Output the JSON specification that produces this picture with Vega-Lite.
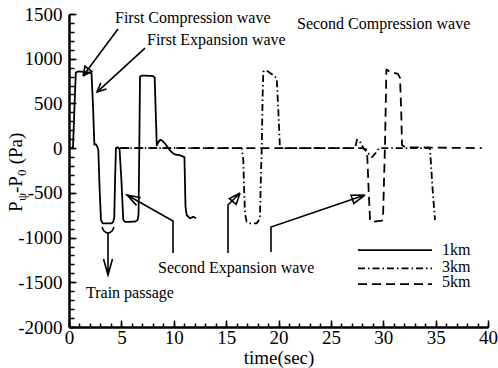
{
  "$schema": "https://vega.github.io/schema/vega-lite/v6.json",
  "width": 419,
  "height": 313,
  "autosize": {"type": "none"},
  "padding": {"left": 69, "top": 14, "right": 10, "bottom": 41},
  "background": "white",
  "config": {
    "view": {"stroke": null},
    "font": "Liberation Serif",
    "axis": {
      "grid": false,
      "domainColor": "black",
      "domainWidth": 2.5,
      "tickColor": "black",
      "tickWidth": 1.5,
      "labelColor": "black",
      "labelFont": "Liberation Serif",
      "labelFontSize": 19,
      "labelOverlap": false,
      "labelBound": false,
      "labelFlush": false,
      "titleColor": "black",
      "titleFont": "Liberation Serif",
      "titleFontSize": 19,
      "titleFontWeight": "normal"
    }
  },
  "resolve": {"axis": {"x": "independent", "y": "independent"}},
  "datasets": {
    "pressure": [
      {"s": "1km", "t": 0, "p": 0}, {"s": "1km", "t": 0.38, "p": 0}, {"s": "1km", "t": 0.52, "p": 450},
      {"s": "1km", "t": 0.65, "p": 845}, {"s": "1km", "t": 0.9, "p": 858}, {"s": "1km", "t": 1.5, "p": 852},
      {"s": "1km", "t": 2.15, "p": 842}, {"s": "1km", "t": 2.3, "p": 450}, {"s": "1km", "t": 2.42, "p": 40},
      {"s": "1km", "t": 2.55, "p": 45}, {"s": "1km", "t": 2.7, "p": 15}, {"s": "1km", "t": 2.8, "p": -20},
      {"s": "1km", "t": 2.92, "p": -450}, {"s": "1km", "t": 3.05, "p": -800}, {"s": "1km", "t": 3.2, "p": -840},
      {"s": "1km", "t": 4.0, "p": -842}, {"s": "1km", "t": 4.2, "p": -830}, {"s": "1km", "t": 4.32, "p": -780},
      {"s": "1km", "t": 4.4, "p": -350}, {"s": "1km", "t": 4.48, "p": 0}, {"s": "1km", "t": 4.62, "p": 10},
      {"s": "1km", "t": 4.82, "p": -5}, {"s": "1km", "t": 5.0, "p": -350}, {"s": "1km", "t": 5.18, "p": -800},
      {"s": "1km", "t": 5.35, "p": -825}, {"s": "1km", "t": 6.3, "p": -822}, {"s": "1km", "t": 6.55, "p": -805},
      {"s": "1km", "t": 6.64, "p": -740}, {"s": "1km", "t": 6.71, "p": 0}, {"s": "1km", "t": 6.78, "p": 800},
      {"s": "1km", "t": 7.0, "p": 812}, {"s": "1km", "t": 8.0, "p": 806}, {"s": "1km", "t": 8.18, "p": 790},
      {"s": "1km", "t": 8.28, "p": 400}, {"s": "1km", "t": 8.38, "p": 30}, {"s": "1km", "t": 8.55, "p": 70},
      {"s": "1km", "t": 8.7, "p": 92}, {"s": "1km", "t": 8.9, "p": 85}, {"s": "1km", "t": 9.2, "p": 45},
      {"s": "1km", "t": 9.64, "p": -25}, {"s": "1km", "t": 10.0, "p": -65}, {"s": "1km", "t": 10.3, "p": -75},
      {"s": "1km", "t": 10.6, "p": -80}, {"s": "1km", "t": 10.9, "p": -95}, {"s": "1km", "t": 11.02, "p": -100},
      {"s": "1km", "t": 11.12, "p": -650}, {"s": "1km", "t": 11.24, "p": -750}, {"s": "1km", "t": 11.55, "p": -785},
      {"s": "1km", "t": 11.87, "p": -767}, {"s": "1km", "t": 12.12, "p": -785},

      {"s": "3km", "t": 4.9, "p": 0}, {"s": "3km", "t": 16.49, "p": 0}, {"s": "3km", "t": 16.64, "p": -130},
      {"s": "3km", "t": 16.71, "p": -430}, {"s": "3km", "t": 16.8, "p": -728}, {"s": "3km", "t": 16.96, "p": -823},
      {"s": "3km", "t": 17.28, "p": -841}, {"s": "3km", "t": 17.92, "p": -841}, {"s": "3km", "t": 18.15, "p": -800},
      {"s": "3km", "t": 18.23, "p": -767}, {"s": "3km", "t": 18.3, "p": -400}, {"s": "3km", "t": 18.4, "p": 0},
      {"s": "3km", "t": 18.49, "p": 616}, {"s": "3km", "t": 18.55, "p": 854}, {"s": "3km", "t": 18.7, "p": 872},
      {"s": "3km", "t": 18.87, "p": 868}, {"s": "3km", "t": 19.5, "p": 817}, {"s": "3km", "t": 19.83, "p": 780},
      {"s": "3km", "t": 19.98, "p": 426}, {"s": "3km", "t": 20.14, "p": 0}, {"s": "3km", "t": 27.3, "p": 0},
      {"s": "3km", "t": 27.5, "p": 95}, {"s": "3km", "t": 27.85, "p": 60}, {"s": "3km", "t": 28.1, "p": 0},
      {"s": "3km", "t": 28.6, "p": -60}, {"s": "3km", "t": 28.93, "p": -100}, {"s": "3km", "t": 29.3, "p": -50},
      {"s": "3km", "t": 29.6, "p": 0}, {"s": "3km", "t": 34.46, "p": 0}, {"s": "3km", "t": 34.7, "p": -440},
      {"s": "3km", "t": 34.94, "p": -805},

      {"s": "5km", "t": 4.9, "p": 0}, {"s": "5km", "t": 28.0, "p": 0}, {"s": "5km", "t": 28.45, "p": -20},
      {"s": "5km", "t": 28.6, "p": -450}, {"s": "5km", "t": 28.74, "p": -805}, {"s": "5km", "t": 28.93, "p": -826},
      {"s": "5km", "t": 29.88, "p": -810}, {"s": "5km", "t": 29.98, "p": -770}, {"s": "5km", "t": 30.17, "p": 50},
      {"s": "5km", "t": 30.3, "p": 880}, {"s": "5km", "t": 30.6, "p": 855}, {"s": "5km", "t": 31.4, "p": 830},
      {"s": "5km", "t": 31.6, "p": 785}, {"s": "5km", "t": 31.72, "p": 400}, {"s": "5km", "t": 31.79, "p": 35},
      {"s": "5km", "t": 32.1, "p": 10}, {"s": "5km", "t": 39.4, "p": 0}
    ],
    "arrows": [
      {"a": "a1", "k": 0, "t": 4.678, "p": 1331.8}, {"a": "a1", "k": 1, "t": 1.337, "p": 806.2},
      {"a": "a1", "k": 2, "t": 2.177, "p": 858.8}, {"a": "a1", "k": 3, "t": 1.527, "p": 915.8},
      {"a": "a1", "k": 4, "t": 1.337, "p": 806.2},
      {"a": "a2", "k": 0, "t": 7.255, "p": 1119.3}, {"a": "a2", "k": 1, "t": 2.673, "p": 627.3},
      {"a": "a2", "k": 2, "t": 3.58, "p": 660.9}, {"a": "a2", "k": 3, "t": 2.673, "p": 627.3},
      {"a": "a2", "k": 4, "t": 3.036, "p": 730.2},
      {"a": "a3", "k": 0, "t": 3.723, "p": -949.3}, {"a": "a3", "k": 1, "t": 3.723, "p": -1419},
      {"a": "a3", "k": 2, "t": 3.294, "p": -1240.1}, {"a": "a3", "k": 3, "t": 3.723, "p": -1419},
      {"a": "a3", "k": 4, "t": 4.153, "p": -1240.1},
      {"a": "a4", "k": 0, "t": 9.928, "p": -1173}, {"a": "a4", "k": 1, "t": 9.928, "p": -815.2},
      {"a": "a4", "k": 2, "t": 5.537, "p": -524.4}, {"a": "a4", "k": 3, "t": 6.444, "p": -639.6},
      {"a": "a4", "k": 4, "t": 5.537, "p": -524.4}, {"a": "a4", "k": 5, "t": 6.845, "p": -555.7},
      {"a": "a5", "k": 0, "t": 15.179, "p": -1173}, {"a": "a5", "k": 1, "t": 15.179, "p": -636.3},
      {"a": "a5", "k": 2, "t": 16.325, "p": -502.1}, {"a": "a5", "k": 3, "t": 15.313, "p": -563.6},
      {"a": "a5", "k": 4, "t": 15.962, "p": -629.5}, {"a": "a5", "k": 5, "t": 16.325, "p": -502.1},
      {"a": "a6", "k": 0, "t": 19.284, "p": -1161.8}, {"a": "a6", "k": 1, "t": 19.284, "p": -882.3},
      {"a": "a6", "k": 2, "t": 28.258, "p": -524.4}, {"a": "a6", "k": 3, "t": 26.921, "p": -526.7},
      {"a": "a6", "k": 4, "t": 27.189, "p": -618.4}, {"a": "a6", "k": 5, "t": 28.258, "p": -524.4}
    ],
    "brace": [
      {"t": 3.15, "p": -882.3}, {"t": 3.341, "p": -927}, {"t": 3.723, "p": -949.3},
      {"t": 4.105, "p": -927}, {"t": 4.296, "p": -882.3}
    ],
    "notes": [
      {"text": "First Compression wave", "t": 4.391, "p": 1398.9},
      {"text": "First Expansion wave", "t": 7.446, "p": 1152.9},
      {"text": "Second Compression wave", "t": 21.766, "p": 1331.8},
      {"text": "Second Expansion wave", "t": 8.496, "p": -1396.6},
      {"text": "Train passage", "t": 1.623, "p": -1676.2},
      {"text": "1km", "t": 35.609, "p": -1195.4},
      {"text": "3km", "t": 35.609, "p": -1382.1},
      {"text": "5km", "t": 35.609, "p": -1556.5}
    ],
    "key": [
      {"s": "1km", "t": 27.589, "p": -1139.4}, {"s": "1km", "t": 34.654, "p": -1139.4},
      {"s": "3km", "t": 27.589, "p": -1344.1}, {"s": "3km", "t": 34.654, "p": -1344.1},
      {"s": "5km", "t": 27.589, "p": -1519.6}, {"s": "5km", "t": 34.654, "p": -1519.6}
    ],
    "ytitle": [
      {"text": "P", "kind": "main", "t": -4.487, "p": -714.5},
      {"text": "ψ", "kind": "sub", "t": -4.105, "p": -591.5},
      {"text": "-P", "kind": "main", "t": -4.487, "p": -502.1},
      {"text": "0", "kind": "sub", "t": -4.105, "p": -312},
      {"text": "(Pa)", "kind": "main", "t": -4.487, "p": -180.6}
    ]
  },
  "layer": [
    {
      "data": {"name": "pressure"},
      "mark": {"type": "line", "color": "black", "strokeWidth": 1.8, "strokeJoin": "round"},
      "encoding": {
        "x": {
          "field": "t", "type": "quantitative",
          "scale": {"domain": [0, 40], "nice": false, "zero": false},
          "axis": {
            "orient": "bottom",
            "title": "time(sec)",
            "titlePadding": 1,
            "values": [0, 5, 10, 15, 20, 25, 30, 35, 40],
            "tickSize": -7,
            "labelPadding": 8
          }
        },
        "y": {
          "field": "p", "type": "quantitative",
          "scale": {"domain": [-2000, 1500], "nice": false, "zero": false},
          "axis": {
            "orient": "left",
            "title": null,
            "format": "d",
            "labelExpr": "'' + datum.value",
            "values": [-2000, -1500, -1000, -500, 0, 500, 1000, 1500],
            "tickSize": -7,
            "labelPadding": 14
          }
        },
        "detail": {"field": "s", "type": "nominal"},
        "strokeDash": {
          "field": "s", "type": "nominal",
          "scale": {"domain": ["1km", "3km", "5km"], "range": [[1, 0], [7, 3, 1.5, 3], [9, 5]]},
          "legend": null
        }
      }
    },
    {
      "data": {"name": "key"},
      "mark": {"type": "line", "color": "black", "strokeWidth": 1.8},
      "encoding": {
        "x": {
          "field": "t", "type": "quantitative",
          "axis": {
            "orient": "bottom", "title": null, "labels": false, "domain": false,
            "values": [0,1,2,3,4,5,6,7,8,9,10,11,12,13,14,15,16,17,18,19,20,21,22,23,24,25,26,27,28,29,30,31,32,33,34,35,36,37,38,39,40],
            "tickSize": -4
          }
        },
        "y": {
          "field": "p", "type": "quantitative",
          "axis": {
            "orient": "left", "title": null, "labels": false, "domain": false,
            "values": [-2000,-1900,-1800,-1700,-1600,-1500,-1400,-1300,-1200,-1100,-1000,-900,-800,-700,-600,-500,-400,-300,-200,-100,0,100,200,300,400,500,600,700,800,900,1000,1100,1200,1300,1400,1500],
            "tickSize": -5
          }
        },
        "detail": {"field": "s", "type": "nominal"},
        "strokeDash": {"field": "s", "type": "nominal", "legend": null}
      }
    },
    {
      "data": {"name": "arrows"},
      "mark": {"type": "line", "color": "black", "strokeWidth": 1.6, "strokeJoin": "miter"},
      "encoding": {
        "x": {"field": "t", "type": "quantitative", "axis": null},
        "y": {"field": "p", "type": "quantitative", "axis": null},
        "detail": {"field": "a", "type": "nominal"},
        "order": {"field": "k", "type": "quantitative"}
      }
    },
    {
      "data": {"name": "brace"},
      "mark": {"type": "line", "color": "black", "strokeWidth": 1.6, "interpolate": "monotone"},
      "encoding": {
        "x": {"field": "t", "type": "quantitative", "axis": null},
        "y": {"field": "p", "type": "quantitative", "axis": null}
      }
    },
    {
      "data": {"name": "notes"},
      "mark": {"type": "text", "align": "left", "baseline": "alphabetic", "fontSize": 16, "color": "black"},
      "encoding": {
        "x": {"field": "t", "type": "quantitative", "axis": null},
        "y": {"field": "p", "type": "quantitative", "axis": null},
        "text": {"field": "text", "type": "nominal"}
      }
    },
    {
      "data": {"name": "ytitle"},
      "mark": {"type": "text", "align": "left", "baseline": "alphabetic", "angle": 270, "color": "black"},
      "encoding": {
        "x": {"field": "t", "type": "quantitative", "axis": null},
        "y": {"field": "p", "type": "quantitative", "axis": null},
        "text": {"field": "text", "type": "nominal"},
        "size": {"field": "kind", "type": "nominal", "scale": {"domain": ["main", "sub"], "range": [19, 13]}, "legend": null}
      }
    }
  ]
}
